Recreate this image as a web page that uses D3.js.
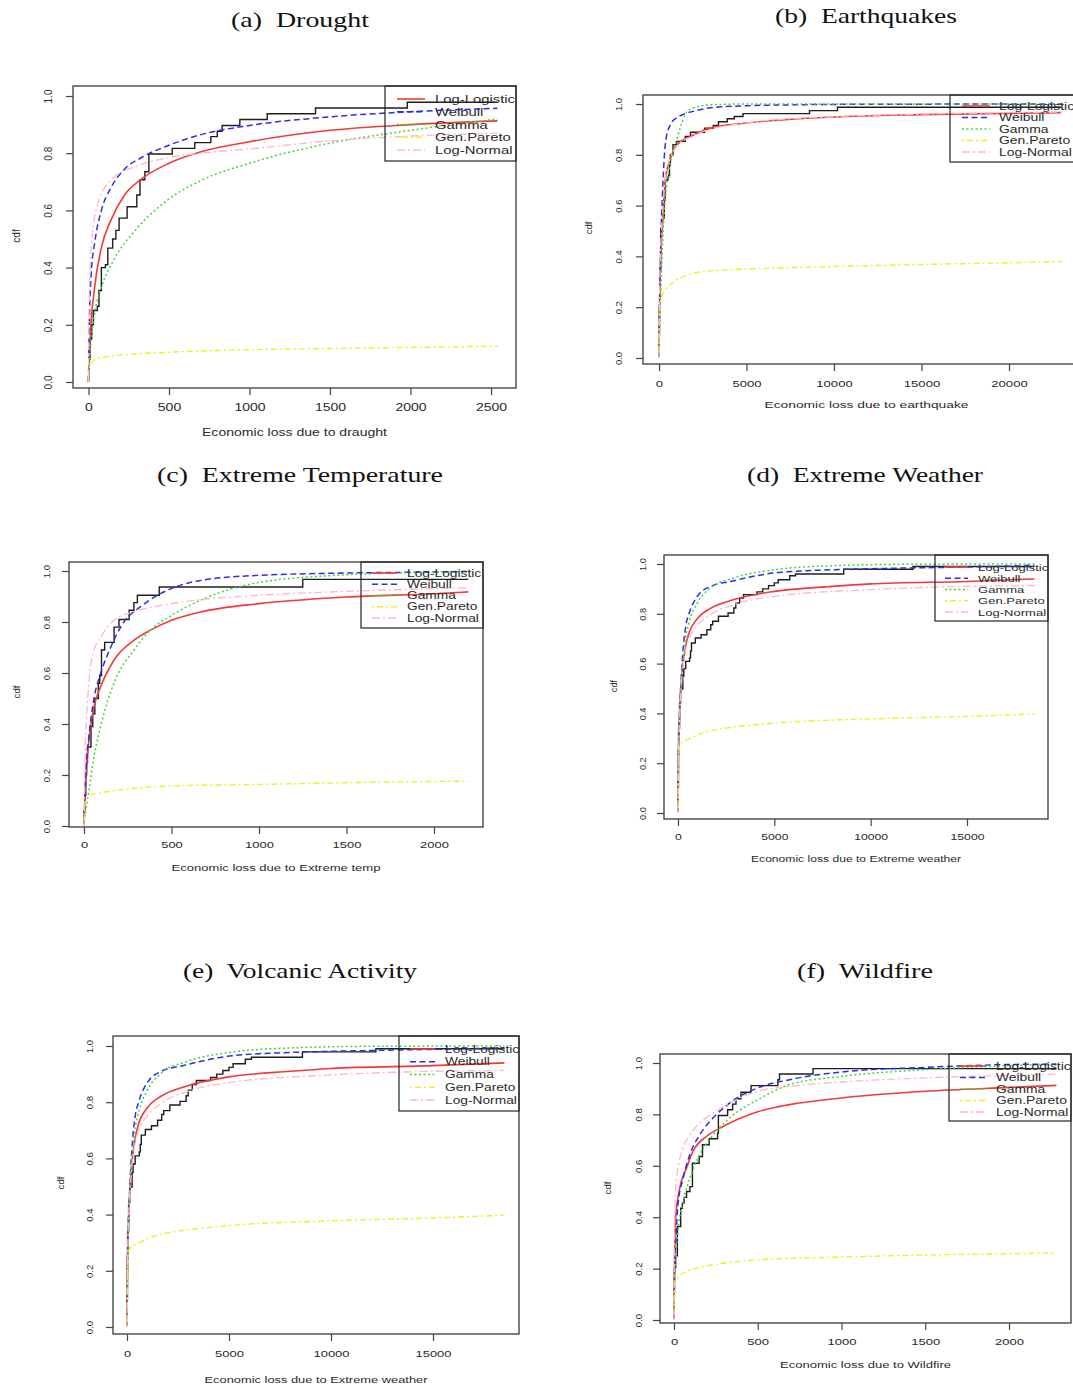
<!DOCTYPE html>
<html><head><meta charset="utf-8">
<script src="https://cdn.jsdelivr.net/npm/d3@7"></script>
<style>body{margin:0;background:#fff}svg{display:block}</style>
</head><body><svg id="c" width="1073" height="1387"></svg>
<script>
// ---------- shared labels ----------
const seriesNames = ["Log-Logistic","Weibull","Gamma","Gen.Pareto","Log-Normal"];
const yTickValues = [0,0.2,0.4,0.6,0.8,1.0];
const yTickLabels = ["0.0","0.2","0.4","0.6","0.8","1.0"];
const xTicksSmall = [0,500,1000,1500,2000,2500];
const xTicksEq = [0,5000,10000,15000,20000];
const xTicksTemp = [0,500,1000,1500,2000];
const xTicksWeather = [0,5000,10000,15000];
const xTicksFire = [0,500,1000,1500,2000];

// ---------- (a) Drought ----------
const droughtECDF = [[0,0.02],[5,0.08],[10,0.15],[20,0.2],[30,0.25],[55,0.265],[65,0.32],[80,0.40],[105,0.41],[120,0.468],[150,0.5],[170,0.53],[190,0.573],[240,0.613],[300,0.654],[320,0.707],[350,0.735],[375,0.797],[520,0.817],[660,0.837],[760,0.858],[800,0.877],[830,0.897],[940,0.918],[1110,0.938],[1410,0.958],[1980,0.978],[2540,0.978]];
const droughtLogLogistic = [[0,0],[10,0.15],[38,0.33],[80,0.47],[140,0.567],[225,0.655],[330,0.71],[500,0.765],[700,0.805],[1000,0.84],[1500,0.88],[2000,0.9],[2540,0.913]];
const droughtWeibull = [[0,0],[5,0.2],[17,0.38],[38,0.485],[80,0.6],[140,0.68],[225,0.745],[330,0.785],[500,0.828],[700,0.865],[1000,0.897],[1500,0.927],[2000,0.945],[2540,0.957]];
const droughtGamma = [[0,0],[10,0.1],[38,0.24],[80,0.33],[160,0.43],[290,0.53],[500,0.64],[700,0.705],[1000,0.765],[1500,0.835],[2000,0.88],[2540,0.92]];
const droughtGenPareto = [[0,0],[5,0.05],[20,0.07],[40,0.078],[160,0.092],[500,0.104],[1000,0.113],[1500,0.117],[2000,0.121],[2540,0.125]];
const droughtLogNormal = [[0,0],[5,0.3],[17,0.47],[58,0.625],[140,0.706],[290,0.753],[500,0.785],[700,0.8],[1000,0.815],[1500,0.843],[2000,0.86],[2540,0.87]];

// ---------- (b) Earthquakes ----------
const quakeECDF = [[0,0.1],[20,0.2],[40,0.34],[100,0.51],[200,0.55],[300,0.62],[350,0.70],[500,0.71],[550,0.72],[600,0.76],[650,0.80],[800,0.84],[1000,0.853],[1500,0.872],[1800,0.889],[2600,0.905],[3100,0.916],[3400,0.93],[3900,0.942],[4300,0.951],[4800,0.962],[8600,0.974],[10200,0.987],[23000,0.987]];
const quakeLogLogistic = [[0,0],[50,0.3],[190,0.52],[380,0.71],[660,0.787],[1040,0.84],[1800,0.872],[2940,0.905],[5000,0.925],[8000,0.942],[10000,0.949],[15000,0.958],[23000,0.966]];
const quakeWeibull = [[0,0],[30,0.2],[100,0.45],[200,0.65],[380,0.853],[660,0.92],[1000,0.945],[1420,0.96],[2000,0.972],[2940,0.985],[5000,0.993],[8000,0.997],[12000,0.999],[23000,1.0]];
const quakeGamma = [[0,0],[100,0.25],[200,0.45],[380,0.64],[660,0.77],[1040,0.866],[1600,0.97],[2000,0.985],[3000,0.997],[5000,1.0],[23000,1.0]];
const quakeGenPareto = [[0,0],[20,0.15],[100,0.23],[380,0.27],[660,0.29],[1600,0.326],[2500,0.34],[5000,0.35],[10000,0.36],[15000,0.368],[20000,0.375],[23000,0.38]];
const quakeLogNormal = [[0,0],[50,0.33],[190,0.55],[380,0.72],[660,0.79],[1040,0.835],[1800,0.87],[2940,0.9],[5000,0.925],[10000,0.95],[15000,0.96],[23000,0.968]];

// ---------- (c) Extreme Temperature ----------
const tempECDF = [[0,0.06],[5,0.12],[10,0.2],[15,0.25],[20,0.31],[40,0.39],[50,0.44],[62,0.5],[82,0.56],[90,0.59],[100,0.69],[118,0.72],[172,0.78],[200,0.81],[258,0.846],[285,0.876],[305,0.905],[430,0.937],[1250,0.967],[2196,0.967]];
const tempLogLogistic = [[0,0],[8,0.15],[23,0.3],[57,0.467],[95,0.546],[171,0.65],[285,0.728],[380,0.768],[500,0.807],[665,0.839],[1000,0.872],[1500,0.898],[2000,0.911],[2196,0.918]];
const tempWeibull = [[0,0],[10,0.2],[28,0.35],[57,0.5],[95,0.598],[152,0.7],[228,0.8],[323,0.86],[475,0.924],[665,0.963],[1000,0.983],[1500,0.992],[2000,0.996],[2196,0.998]];
const tempGamma = [[0,0],[10,0.06],[28,0.14],[57,0.27],[95,0.39],[171,0.56],[285,0.69],[380,0.768],[500,0.826],[665,0.885],[1000,0.955],[1500,0.985],[2000,0.996],[2196,1.0]];
const tempGenPareto = [[0,0],[3,0.06],[10,0.1],[28,0.12],[95,0.13],[285,0.148],[500,0.157],[1000,0.163],[1500,0.17],[2196,0.176]];
const tempLogNormal = [[0,0],[5,0.25],[15,0.43],[28,0.56],[57,0.69],[95,0.74],[171,0.807],[285,0.84],[500,0.872],[1000,0.905],[1500,0.92],[2196,0.935]];

// ---------- (d) Extreme Weather and (e) Volcanic Activity (same figure) ----------
const weatherECDF = [[0,0.1],[20,0.25],[30,0.34],[80,0.44],[130,0.498],[250,0.55],[300,0.58],[400,0.609],[600,0.623],[650,0.65],[700,0.683],[900,0.703],[1200,0.716],[1500,0.736],[1700,0.756],[1800,0.77],[2100,0.79],[2600,0.803],[2900,0.823],[3000,0.843],[3200,0.863],[3400,0.877],[4100,0.888],[4400,0.9],[4700,0.913],[5000,0.924],[5200,0.937],[5800,0.953],[6100,0.96],[8600,0.979],[12200,0.99],[18500,0.99]];
const weatherLogLogistic = [[0,0],[30,0.25],[138,0.48],[400,0.67],[570,0.723],[1000,0.78],[1690,0.822],[2900,0.857],[5000,0.89],[8000,0.91],[10000,0.92],[15000,0.93],[18500,0.94]];
const weatherWeibull = [[0,0],[20,0.2],[60,0.35],[138,0.495],[225,0.616],[400,0.75],[570,0.8],[1000,0.87],[1690,0.91],[2730,0.93],[5000,0.964],[8000,0.977],[10000,0.981],[15000,0.988],[18500,0.993]];
const weatherGamma = [[0,0],[30,0.2],[138,0.48],[310,0.656],[570,0.763],[1000,0.843],[1690,0.904],[2900,0.944],[5000,0.977],[8000,0.993],[12000,0.999],[18500,1.0]];
const weatherGenPareto = [[0,0],[50,0.25],[150,0.28],[500,0.295],[1200,0.32],[2000,0.335],[2900,0.345],[5000,0.361],[10000,0.378],[15000,0.388],[18500,0.398]];
const weatherLogNormal = [[0,0],[30,0.25],[138,0.47],[400,0.656],[570,0.7],[1000,0.752],[1690,0.797],[2900,0.837],[5000,0.87],[10000,0.897],[15000,0.91],[18500,0.913]];

// ---------- (f) Wildfire ----------
const fireECDF = [[0,0.06],[2,0.204],[10,0.25],[20,0.364],[40,0.435],[50,0.455],[60,0.477],[75,0.5],[95,0.519],[110,0.61],[150,0.636],[170,0.682],[210,0.705],[260,0.727],[265,0.796],[320,0.818],[350,0.84],[370,0.861],[400,0.886],[460,0.912],[620,0.935],[630,0.957],[830,0.978],[2283,0.978]];
const fireLogLogistic = [[0,0],[3,0.2],[10,0.396],[34,0.513],[74,0.59],[113,0.656],[193,0.714],[293,0.753],[500,0.81],[690,0.838],[1000,0.864],[1500,0.89],[2000,0.905],[2283,0.913]];
const fireWeibull = [[0,0],[3,0.15],[10,0.29],[24,0.45],[54,0.55],[94,0.643],[153,0.72],[233,0.786],[332,0.844],[500,0.903],[690,0.935],[1000,0.965],[1500,0.983],[2000,0.994],[2283,0.996]];
const fireGamma = [[0,0],[3,0.1],[10,0.227],[24,0.344],[54,0.46],[94,0.55],[153,0.643],[233,0.72],[332,0.786],[500,0.857],[690,0.916],[1000,0.948],[1500,0.974],[2000,0.99],[2283,0.996]];
const fireGenPareto = [[0,0],[2,0.1],[6,0.136],[18,0.162],[54,0.182],[153,0.204],[293,0.221],[500,0.234],[1000,0.245],[1500,0.253],[2000,0.258],[2283,0.261]];
const fireLogNormal = [[0,0],[2,0.3],[10,0.513],[24,0.59],[54,0.67],[94,0.72],[153,0.766],[233,0.805],[332,0.844],[500,0.89],[690,0.909],[1000,0.926],[1500,0.942],[2000,0.952],[2283,0.957]];

// ---------- styles ----------
const styles = [
  {color:"#f23a3a", dash:null, w:1.6},
  {color:"#2d2de8", dash:"6,3.5", w:1.5},
  {color:"#3fd83f", dash:"2,2.5", w:1.5},
  {color:"#f2ee2a", dash:"2,3,6,3", w:1.4},
  {color:"#ffb8c4", dash:"8,3,2,3", w:1.3}
];

// ---------- layout (positions only) ----------
const panels = [
  {title:"(a)  Drought", tx:300, ty:19, tw:138, box:[73,86,516,388], ticks:xTicksSmall, xr:[88.5,491], yr:[382,96],
   leg:[385,86,516,161,99,12.75,397,425,435], xlab:"Economic loss due to draught", xly:432, xlw:185, ylx:16, yly:236,
   fs:10, sx:1.4, yto:25, xto:19, ecdf:droughtECDF, fits:[droughtLogLogistic,droughtWeibull,droughtGamma,droughtGenPareto,droughtLogNormal]},
  {title:"(b)  Earthquakes", tx:866, ty:15, tw:182, box:[643,95,1090,364], ticks:xTicksEq, xr:[659,1009], yr:[358,104],
   leg:[950,95,1090,162,106,11.5,962,990,999], xlab:"Economic loss due to earthquake", xly:404, xlw:204, ylx:588, yly:228,
   fs:9.5, sx:1.38, yto:25, xto:19, ecdf:quakeECDF, fits:[quakeLogLogistic,quakeWeibull,quakeGamma,quakeGenPareto,quakeLogNormal]},
  {title:"(c)  Extreme Temperature", tx:300, ty:474, tw:286, box:[69,562,483,827], ticks:xTicksTemp, xr:[84,434], yr:[826,571],
   leg:[361,562,483,628,573,11.25,372,397,407], xlab:"Economic loss due to Extreme temp", xly:867, xlw:209, ylx:16, yly:692,
   fs:9.6, sx:1.35, yto:23, xto:17, ecdf:tempECDF, fits:[tempLogLogistic,tempWeibull,tempGamma,tempGenPareto,tempLogNormal]},
  {title:"(d)  Extreme Weather", tx:865, ty:474, tw:236, box:[664,555,1048,819], ticks:xTicksWeather, xr:[678,967], yr:[813,564],
   leg:[935,555,1048,621,567,11.25,945,968,978], xlab:"Economic loss due to Extreme weather", xly:859, xlw:210, ylx:614, yly:686,
   fs:9.2, sx:1.33, yto:21, xto:18, ecdf:weatherECDF, fits:[weatherLogLogistic,weatherWeibull,weatherGamma,weatherGenPareto,weatherLogNormal]},
  {title:"(e)  Volcanic Activity", tx:300, ty:970, tw:234, box:[113,1036,519,1334], ticks:xTicksWeather, xr:[127,433], yr:[1327,1046],
   leg:[399,1036,519,1111,1049,12.75,410,435,445], xlab:"Economic loss due to Extreme weather", xly:1379, xlw:223, ylx:60, yly:1183,
   fs:9.6, sx:1.35, yto:24, xto:19, ecdf:weatherECDF, fits:[weatherLogLogistic,weatherWeibull,weatherGamma,weatherGenPareto,weatherLogNormal]},
  {title:"(f)  Wildfire", tx:865, ty:970, tw:136, box:[660,1054,1071,1323], ticks:xTicksFire, xr:[674,1009], yr:[1320,1063],
   leg:[949,1054,1071,1121,1066,11.5,960,985,996], xlab:"Economic loss due to Wildfire", xly:1364, xlw:171, ylx:607, yly:1188,
   fs:9.6, sx:1.36, yto:22, xto:18, ecdf:fireECDF, fits:[fireLogLogistic,fireWeibull,fireGamma,fireGenPareto,fireLogNormal]}
];

const svg = d3.select("#c");
svg.append("rect").attr("width",1073).attr("height",1387).attr("fill","#fff");
const SANS = "'Liberation Sans', Arial, sans-serif";
const TXT = "#2a2a2a";

function stretch(sel, sx){
  sel.each(function(){
    const L = this.getComputedTextLength();
    if (L>0){ d3.select(this).attr("textLength", L*sx).attr("lengthAdjust","spacingAndGlyphs"); }
  });
}

panels.forEach(p => {
  const g = svg.append("g");
  const [bl,bt,br,bb] = p.box;
  const x = d3.scaleLinear().domain([0, p.ticks[p.ticks.length-1]]).range(p.xr);
  const y = d3.scaleLinear().domain([0,1]).range(p.yr);

  // title
  g.append("text").attr("x",p.tx).attr("y",p.ty+7.5).attr("text-anchor","middle")
    .style("white-space","pre").attr("font-family","'Liberation Serif', 'Times New Roman', serif")
    .attr("font-size",22).attr("fill","#111").attr("textLength",p.tw).attr("lengthAdjust","spacingAndGlyphs")
    .text(p.title);

  // curves
  const clipId = "clip"+p.title.charAt(1);
  g.append("clipPath").attr("id",clipId).append("rect").attr("x",bl).attr("y",bt).attr("width",br-bl).attr("height",bb-bt);
  const plot = g.append("g").attr("clip-path",`url(#${clipId})`);

  const stepLine = d3.line().x(d=>x(d[0])).y(d=>y(d[1])).curve(d3.curveStepAfter);
  const ecdfPts = [[p.ecdf[0][0],0]].concat(p.ecdf);
  plot.append("path").datum(ecdfPts).attr("d",stepLine).attr("fill","none")
    .attr("stroke","#1e1e1e").attr("stroke-width",1.4);

  const fitLine = d3.line().x(d=>x(d[0])).y(d=>y(d[1])).curve(d3.curveMonotoneX);
  p.fits.forEach((arr,i) => {
    const s = styles[i];
    plot.append("path").datum(arr).attr("d",fitLine).attr("fill","none")
      .attr("stroke",s.color).attr("stroke-width",s.w).attr("stroke-dasharray",s.dash);
  });

  // box
  g.append("rect").attr("x",bl).attr("y",bt).attr("width",br-bl).attr("height",bb-bt)
    .attr("fill","none").attr("stroke","#3a3a3a").attr("stroke-width",1.3);

  // y axis
  const ya = g.append("g").attr("transform",`translate(${bl},0)`)
    .call(d3.axisLeft(y).tickValues(yTickValues).tickSize(7).tickFormat((d,i)=>yTickLabels[i]));
  ya.select(".domain").remove();
  ya.selectAll("line").attr("stroke","#444").attr("stroke-width",1.2);
  ya.selectAll("text").attr("x",null).attr("dy",null)
    .attr("transform",`translate(${-p.yto},0) rotate(-90)`)
    .attr("text-anchor","middle").attr("dominant-baseline","central")
    .attr("font-family",SANS).attr("font-size",p.fs).attr("fill",TXT);

  // x axis
  const xa = g.append("g").attr("transform",`translate(0,${bb})`)
    .call(d3.axisBottom(x).tickValues(p.ticks).tickSize(7).tickFormat(d3.format("d")));
  xa.select(".domain").remove();
  xa.selectAll("line").attr("stroke","#444").attr("stroke-width",1.2);
  xa.selectAll("text").attr("y",p.xto).attr("dy",null).attr("dominant-baseline","central")
    .attr("font-family",SANS).attr("font-size",p.fs).attr("fill",TXT);
  xa.selectAll("text").call(stretch, p.sx);
  xa.attr("font-family",null).attr("font-size",null);
  ya.attr("font-family",null).attr("font-size",null);

  // axis labels
  g.append("text").attr("x",(bl+br)/2).attr("y",p.xly)
    .attr("text-anchor","middle").attr("dominant-baseline","central")
    .attr("font-family",SANS).attr("font-size",p.fs).attr("fill",TXT)
    .text(p.xlab)
    .attr("textLength",p.xlw).attr("lengthAdjust","spacingAndGlyphs");
  g.append("text").attr("transform",`translate(${p.ylx},${p.yly}) rotate(-90)`)
    .attr("text-anchor","middle").attr("dominant-baseline","central")
    .attr("font-family",SANS).attr("font-size",p.fs).attr("fill",TXT).text("cdf");

  // legend
  const [ll,lt,lr,lb,row0,step,lx0,lx1,ltx] = p.leg;
  g.append("rect").attr("x",ll).attr("y",lt).attr("width",lr-ll).attr("height",lb-lt)
    .attr("fill","none").attr("stroke","#222").attr("stroke-width",1.2);
  seriesNames.forEach((nm,i) => {
    const s = styles[i];
    const yy = row0 + i*step;
    g.append("line").attr("x1",lx0).attr("x2",lx1).attr("y1",yy).attr("y2",yy)
      .attr("stroke",s.color).attr("stroke-width",s.w).attr("stroke-dasharray",s.dash);
    g.append("text").attr("x",ltx).attr("y",yy).attr("dominant-baseline","central")
      .attr("font-family",SANS).attr("font-size",p.fs+0.6).attr("fill",TXT).text(nm)
      .call(stretch, p.sx);
  });
});
</script></body></html>
